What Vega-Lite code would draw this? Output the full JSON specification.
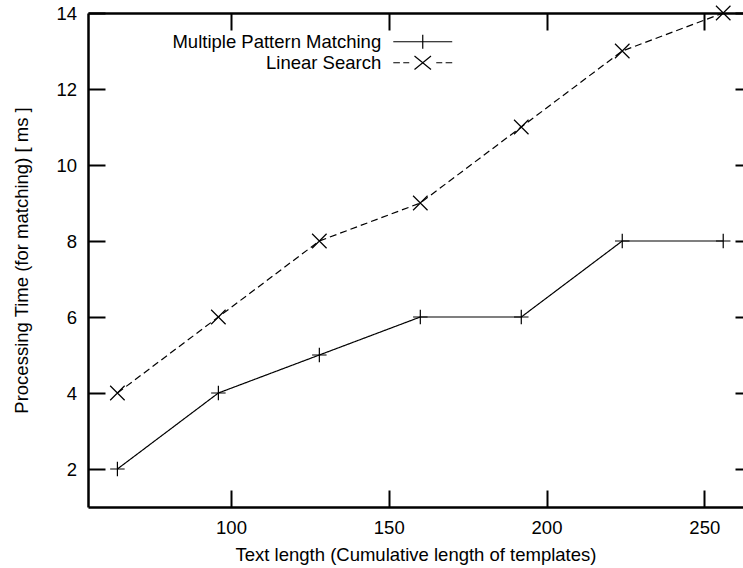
{
  "$schema": "https://vega.github.io/schema/vega-lite/v6.json",
  "width": 655,
  "height": 494,
  "autosize": {"type": "none"},
  "padding": {"left": 88, "top": 13, "right": 0, "bottom": 61},
  "background": "white",
  "config": {
    "view": {"stroke": null},
    "font": "Liberation Sans",
    "axis": {
      "domainColor": "black",
      "domainWidth": 2.5,
      "tickColor": "black",
      "tickWidth": 2,
      "tickSize": -17,
      "labelFont": "Liberation Sans",
      "labelFontSize": 18.5,
      "labelColor": "black",
      "labelPadding": 28.5,
      "labelFlush": false,
      "labelOverlap": false,
      "grid": false,
      "titleFont": "Liberation Sans",
      "titleFontSize": 18.5,
      "titleFontWeight": "normal",
      "titleColor": "black"
    }
  },
  "data": {
    "values": [
      {"series": "Multiple Pattern Matching", "length": 64, "time": 2},
      {"series": "Multiple Pattern Matching", "length": 96, "time": 4},
      {"series": "Multiple Pattern Matching", "length": 128, "time": 5},
      {"series": "Multiple Pattern Matching", "length": 160, "time": 6},
      {"series": "Multiple Pattern Matching", "length": 192, "time": 6},
      {"series": "Multiple Pattern Matching", "length": 224, "time": 8},
      {"series": "Multiple Pattern Matching", "length": 256, "time": 8},
      {"series": "Linear Search", "length": 64, "time": 4},
      {"series": "Linear Search", "length": 96, "time": 6},
      {"series": "Linear Search", "length": 128, "time": 8},
      {"series": "Linear Search", "length": 160, "time": 9},
      {"series": "Linear Search", "length": 192, "time": 11},
      {"series": "Linear Search", "length": 224, "time": 13},
      {"series": "Linear Search", "length": 256, "time": 14}
    ]
  },
  "layer": [
    {
      "mark": {"type": "line", "color": "black", "strokeWidth": 1.2},
      "encoding": {
        "x": {
          "field": "length", "type": "quantitative",
          "scale": {"domain": [54.68, 262.27], "nice": false, "zero": false},
          "axis": {"values": [100, 150, 200, 250], "title": "Text length (Cumulative length of templates)", "titlePadding": 8}
        },
        "y": {
          "field": "time", "type": "quantitative",
          "scale": {"domain": [1, 14], "nice": false, "zero": false},
          "axis": {"values": [2, 4, 6, 8, 10, 12, 14], "title": "Processing Time (for matching) [ ms ]", "titlePadding": 24}
        },
        "strokeDash": {
          "field": "series", "type": "nominal",
          "scale": {"domain": ["Multiple Pattern Matching", "Linear Search"], "range": [[1, 0], [7, 4]]},
          "legend": null
        }
      }
    },
    {
      "mark": {"type": "point", "color": "black", "filled": false, "strokeWidth": 1.2, "size": 210, "opacity": 1},
      "encoding": {
        "x": {
          "field": "length", "type": "quantitative",
          "axis": {"orient": "top", "labels": false, "title": null, "values": [100, 150, 200, 250]}
        },
        "y": {
          "field": "time", "type": "quantitative",
          "axis": {"orient": "right", "labels": false, "title": null, "offset": 9, "values": [2, 4, 6, 8, 10, 12, 14]}
        },
        "shape": {
          "field": "series", "type": "nominal",
          "scale": {"domain": ["Multiple Pattern Matching", "Linear Search"], "range": ["M-1,0H1M0,-1V1", "M-1,-1L1,1M-1,1L1,-1"]},
          "legend": null
        }
      }
    },
    {
      "mark": {"type": "point", "color": "black", "filled": false, "strokeWidth": 1.2, "size": 225, "opacity": 0},
      "encoding": {
        "x": {"field": "length", "type": "quantitative", "axis": null},
        "y": {"field": "time", "type": "quantitative", "axis": null},
        "shape": {
          "field": "series", "type": "nominal",
          "scale": {
            "domain": ["Multiple Pattern Matching", "Linear Search"],
            "range": [
              "M-3.93,0H3.93M0,-0.93V0.93",
              "M-3.93,0H-3.05M-2.6,0H-1.8M-1.1,-0.9L1.1,0.9M-1.1,0.9L1.1,-0.9M1.8,0H2.6M3.05,0H3.93"
            ]
          },
          "legend": {
            "orient": "none",
            "legendX": 325.5,
            "legendY": 19.5,
            "title": null,
            "padding": 0,
            "labelAlign": "right",
            "labelOffset": -50.8,
            "labelFont": "Liberation Sans",
            "labelFontSize": 18.5,
            "labelColor": "black",
            "labelLimit": 0,
            "rowPadding": 2,
            "symbolSize": 225,
            "symbolStrokeWidth": 1.2,
            "symbolStrokeColor": "black",
            "symbolFillColor": "transparent",
            "symbolOpacity": 1
          }
        }
      }
    }
  ],
  "resolve": {
    "scale": {"shape": "independent"},
    "axis": {"x": "independent", "y": "independent"}
  }
}
